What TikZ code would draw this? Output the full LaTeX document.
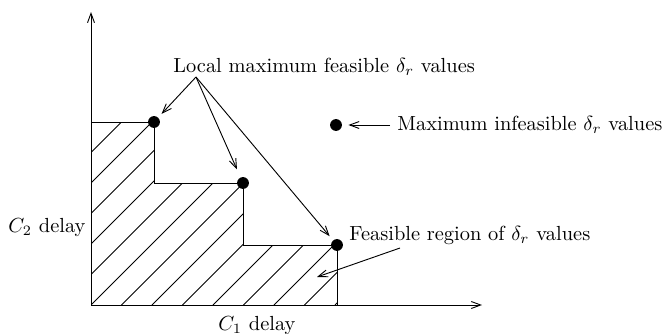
\documentclass[tikz,border=0pt]{standalone}
\usetikzlibrary{arrows.meta}
\begin{document}
\begin{tikzpicture}[x=0.49pt,y=-0.49pt,
  ln/.style={line width=0.45pt},
  arr/.style={ln,-{Straight Barb[length=4.6pt,width=3.4pt]}},
  dot/.style={circle,fill=black,inner sep=0pt,minimum size=5.8pt,outer sep=0pt},
  lbl/.style={inner sep=0pt,font=\fontsize{10}{12}\selectfont}]
\useasboundingbox (0,0) rectangle (663,334);
% axes
\coordinate (O) at (91,305);
\coordinate (ytop) at (91,12);
\coordinate (xend) at (482,305);
\draw[arr] (O) -- (ytop);
\draw[arr] (O) -- (xend);
% hatching
\begin{scope}
\clip (91,122) -- (154,122) -- (154,183) -- (243,183) -- (243,245) -- (337,245) -- (337,305) -- (91,305) -- cycle;
\foreach \k in {-6,...,9} {
  \pgfmathsetmacro{\c}{396+30.5*\k}
  \draw[ln] (\c-305,305) -- (\c-100,100);
}
\end{scope}
% staircase
\draw[ln] (91,122) -- (154,122) -- (154,183) -- (243,183) -- (243,245) -- (337,245) -- (337,305);
% dots
\node[dot] (p1) at (154,122) {};
\node[dot] (p2) at (243,183) {};
\node[dot] (p3) at (337,245) {};
\node[dot] (pinf) at (336,125) {};
% labels
\node[lbl,anchor=base west] (local) at (173,72) {Local maximum feasible $\delta_r$ values};
\node[lbl,anchor=base west] (maxinf) at (397,130) {Maximum infeasible $\delta_r$ values};
\node[lbl,anchor=base west] (feas) at (349,240) {Feasible region of $\delta_r$ values};
\node[lbl,anchor=base west] (c2) at (8,232) {$C_2$ delay};
\node[lbl,anchor=base west] (c1) at (218,330) {$C_1$ delay};
% arrows
\coordinate (lsrc) at (196,77);
\draw[arr,shorten >=2.5pt] (lsrc) -- (p1);
\draw[arr,shorten >=4.4pt] (lsrc) -- (p2);
\draw[arr,shorten >=2.7pt] (lsrc) -- (p3);
\coordinate (isrc) at (390,125);
\draw[arr,shorten >=3.2pt] (isrc) -- (pinf);
\coordinate (fsrc) at (400,248);
\coordinate (fend) at (317,277);
\draw[arr] (fsrc) -- (fend);
\end{tikzpicture}
\end{document}
